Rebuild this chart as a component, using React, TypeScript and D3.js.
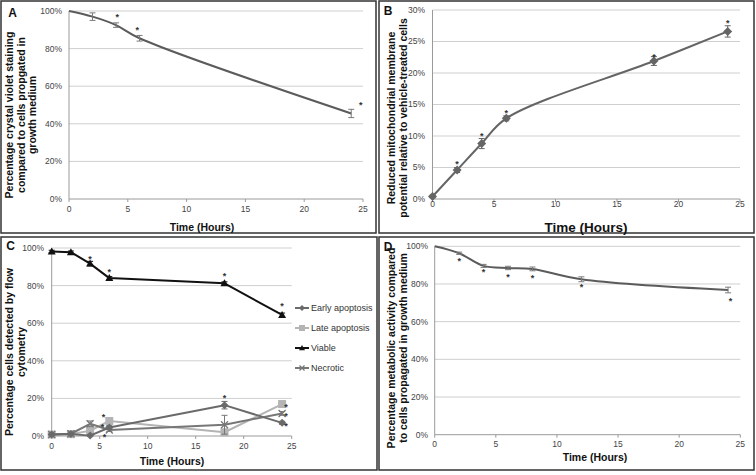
import React from 'react';
import * as d3 from 'd3';

const FONT = '"Liberation Sans", Arial, Helvetica, sans-serif';

// ---------- Data ----------
const xTicks = [0, 5, 10, 15, 20, 25];
const pctTicks100 = [0, 20, 40, 60, 80, 100];
const pctTicks30 = [0, 5, 10, 15, 20, 25, 30];

// Panel A: crystal violet
const hoursA = [0, 2, 4, 6, 24];
const crystalViolet = [100, 97, 92.5, 85.5, 45.5];
const crystalVioletErr = [0, 2, 1.2, 1.5, 2.2];
const starsAHours = [4.1, 5.8, 24.8];
const starsAValues = [97.9, 91.3, 51.2];

// Panel B: mitochondrial membrane potential
const hoursB = [0, 2, 4, 6, 18, 24];
const membranePotential = [0.4, 4.6, 8.8, 12.8, 21.9, 26.6];
const membranePotentialErr = [0.2, 0.4, 0.8, 0.4, 0.7, 0.9];
const starsBHours = [2, 4, 6, 18, 24];
const starsBValues = [5.9, 10.4, 14.1, 23.0, 28.3];

// Panel C: flow cytometry
const hoursC = [0, 2, 4, 6, 18, 24];
const earlyApoptosis = [0.8, 1.1, 0.2, 4.5, 16.4, 7.0];
const earlyApoptosisErr = [0.3, 0.3, 0.3, 1.0, 2.0, 0.8];
const lateApoptosis = [0.8, 1.0, 2.8, 8.0, 2.0, 17.0];
const lateApoptosisErr = [0.3, 0.3, 1.0, 1.0, 0.8, 1.0];
const viable = [98.2, 97.8, 91.7, 84.0, 81.2, 64.4];
const viableErr = [0.6, 0.6, 1.2, 0.8, 0.8, 1.0];
const necrotic = [0.8, 1.2, 6.5, 3.2, 6.0, 12.0];
const necroticErr = [0.3, 0.3, 1.5, 0.8, 5.0, 1.0];
const legendC = ['Early apoptosis', 'Late apoptosis', 'Viable', 'Necrotic'];
const starsCHours = [4, 6, 18, 24, 5.4, 5.3, 5.5, 18, 24.4, 24.4, 24.4];
const starsCValues = [95.4, 88.6, 86.6, 70.5, 11.5, 6.2, 0.9, 21.4, 16.8, 11.8, 6.6];

// Panel D: metabolic activity
const hoursD = [0, 2, 4, 6, 8, 12, 24];
const metabolic = [100, 96.3, 89.6, 88.5, 88.0, 82.5, 76.8];
const metabolicErr = [0, 0.6, 0.8, 0.9, 1.0, 1.3, 1.5];
const starsDHours = [2, 4, 6, 8, 12, 24.2];
const starsDValues = [93.3, 87.6, 85.1, 84.6, 79.5, 72.4];

// ---------- helpers ----------
type Scale = d3.ScaleLinear<number, number>;

interface FrameCfg {
  box: [number, number, number, number];
  label: string;
  labelPos: [number, number];
  xs: Scale;
  ys: Scale;
  yTicks: number[];
  tickLabelX: number;
  xLabelY: number;
  xTitlePos: [number, number];
  xTitleSize: number;
  yTitle: string[];
  yTitleXs: number[];
  yTitleY: number;
}

function Frame({ cfg }: { cfg: FrameCfg }) {
  const { box, xs, ys } = cfg;
  const [x0, x1] = xs.range();
  const [yb] = ys.range();
  return (
    <g>
      <rect x={box[0]} y={box[1]} width={box[2]} height={box[3]} fill="#fff" stroke="#333" strokeWidth={1.5} />
      {cfg.yTicks.map((t) => (
        <g key={'g' + t}>
          <line x1={x0} x2={x1} y1={ys(t)} y2={ys(t)} stroke={t === 0 ? '#9a9a9a' : '#cfcfcf'} strokeWidth={1} />
          <text x={cfg.tickLabelX} y={ys(t)} dy="0.35em" textAnchor="end" fontSize={8.5} fill="#444" fontFamily={FONT}>
            {t}%
          </text>
        </g>
      ))}
      <line x1={x0} x2={x0} y1={ys.range()[0]} y2={ys.range()[1]} stroke="#9a9a9a" strokeWidth={1} />
      {xTicks.map((t) => (
        <g key={'x' + t}>
          <line x1={xs(t)} x2={xs(t)} y1={yb} y2={yb + 3} stroke="#9a9a9a" />
          <text x={xs(t)} y={cfg.xLabelY} dy="0.35em" textAnchor="middle" fontSize={8.5} fill="#444" fontFamily={FONT}>
            {t}
          </text>
        </g>
      ))}
      <text x={cfg.xTitlePos[0]} y={cfg.xTitlePos[1]} dy="0.35em" textAnchor="middle" fontWeight="bold" fontSize={cfg.xTitleSize} fill="#111" fontFamily={FONT}>
        Time (Hours)
      </text>
      {cfg.yTitle.map((line, i) => (
        <text
          key={'yt' + i}
          transform={`translate(${cfg.yTitleXs[i]},${cfg.yTitleY}) rotate(-90)`}
          dy="0.35em"
          textAnchor="middle"
          fontWeight="bold"
          fontSize={10.5}
          fill="#111"
          fontFamily={FONT}
        >
          {line}
        </text>
      ))}
      <text x={cfg.labelPos[0]} y={cfg.labelPos[1]} dy="0.35em" textAnchor="middle" fontWeight="bold" fontSize={12} fill="#111" fontFamily={FONT}>
        {cfg.label}
      </text>
    </g>
  );
}

function ErrorBars({ xs, ys, hours, values, errs, color }: { xs: Scale; ys: Scale; hours: number[]; values: number[]; errs: number[]; color: string }) {
  return (
    <g stroke={color} strokeWidth={1} fill="none">
      {hours.map((h, i) =>
        errs[i] > 0 ? (
          <g key={i}>
            <line x1={xs(h)} x2={xs(h)} y1={ys(values[i] - errs[i])} y2={ys(values[i] + errs[i])} />
            <line x1={xs(h) - 3} x2={xs(h) + 3} y1={ys(values[i] - errs[i])} y2={ys(values[i] - errs[i])} />
            <line x1={xs(h) - 3} x2={xs(h) + 3} y1={ys(values[i] + errs[i])} y2={ys(values[i] + errs[i])} />
          </g>
        ) : null
      )}
    </g>
  );
}

function Stars({ xs, ys, hours, values }: { xs: Scale; ys: Scale; hours: number[]; values: number[] }) {
  return (
    <g>
      {hours.map((h, i) => (
        <text key={i} x={xs(h)} y={ys(values[i])} dy="0.6em" textAnchor="middle" fontSize={9} fontWeight="bold" fill="#333" fontFamily={FONT}>
          *
        </text>
      ))}
    </g>
  );
}

type Marker = 'diamond' | 'square' | 'triangle' | 'cross' | 'none';

function MarkerShape({ kind, x, y, color, r }: { kind: Marker; x: number; y: number; color: string; r: number }) {
  if (kind === 'diamond') return <path d={`M${x},${y - r}L${x + r},${y}L${x},${y + r}L${x - r},${y}Z`} fill={color} />;
  if (kind === 'square') return <rect x={x - r} y={y - r} width={2 * r} height={2 * r} fill={color} />;
  if (kind === 'triangle') return <path d={`M${x},${y - r}L${x + r},${y + r * 0.75}L${x - r},${y + r * 0.75}Z`} fill={color} />;
  if (kind === 'cross')
    return (
      <g stroke={color} strokeWidth={1.3}>
        <line x1={x - r} x2={x + r} y1={y - r} y2={y + r} />
        <line x1={x - r} x2={x + r} y1={y + r} y2={y - r} />
      </g>
    );
  return null;
}

function Series({ xs, ys, hours, values, color, width, curve, marker, r }: { xs: Scale; ys: Scale; hours: number[]; values: number[]; color: string; width: number; curve: d3.CurveFactory; marker: Marker; r: number }) {
  const line = d3
    .line<number>()
    .x((_, i) => xs(hours[i]))
    .y((v) => ys(v))
    .curve(curve);
  return (
    <g>
      <path d={line(values) || ''} fill="none" stroke={color} strokeWidth={width} strokeLinejoin="round" />
      {hours.map((h, i) => (
        <MarkerShape key={i} kind={marker} x={xs(h)} y={ys(values[i])} color={color} r={r} />
      ))}
    </g>
  );
}

export default function App() {
  // Panel A
  const xsA = d3.scaleLinear().domain([0, 25]).range([69, 363]);
  const ysA = d3.scaleLinear().domain([0, 100]).range([199, 11]);
  // Panel B
  const xsB = d3.scaleLinear().domain([0, 25]).range([432.5, 740]);
  const ysB = d3.scaleLinear().domain([0, 30]).range([199, 10]);
  // Panel C
  const xsC = d3.scaleLinear().domain([0, 25]).range([51.7, 291.7]);
  const ysC = d3.scaleLinear().domain([0, 100]).range([436, 248]);
  // Panel D
  const xsD = d3.scaleLinear().domain([0, 25]).range([434.7, 740.3]);
  const ysD = d3.scaleLinear().domain([0, 100]).range([434.7, 246.3]);

  const smooth = d3.curveCatmullRom.alpha(0.5);

  const cfgA: FrameCfg = {
    box: [1, 1, 375, 232],
    label: 'A',
    labelPos: [12.5, 12.5],
    xs: xsA,
    ys: ysA,
    yTicks: pctTicks100,
    tickLabelX: 62,
    xLabelY: 209,
    xTitlePos: [202, 227.5],
    xTitleSize: 10.5,
    yTitle: ['Percentage crystal violet staining', 'compared to cells propgated in', 'growth medium'],
    yTitleXs: [9.5, 21, 32.5],
    yTitleY: 115,
  };
  const cfgB: FrameCfg = {
    box: [379, 1, 375, 232],
    label: 'B',
    labelPos: [388, 11],
    xs: xsB,
    ys: ysB,
    yTicks: pctTicks30,
    tickLabelX: 425,
    xLabelY: 204,
    xTitlePos: [586, 227.5],
    xTitleSize: 13.5,
    yTitle: ['Reduced mitochondrial membrane', 'potential relative to vehicle-treated cells'],
    yTitleXs: [391, 403.5],
    yTitleY: 118,
  };
  const cfgC: FrameCfg = {
    box: [1, 237, 376, 233],
    label: 'C',
    labelPos: [10.5, 245.5],
    xs: xsC,
    ys: ysC,
    yTicks: pctTicks100,
    tickLabelX: 44,
    xLabelY: 446,
    xTitlePos: [172, 461],
    xTitleSize: 10.5,
    yTitle: ['Percentage cells detected by flow', 'cytometry'],
    yTitleXs: [9.5, 21],
    yTitleY: 352,
  };
  const cfgD: FrameCfg = {
    box: [379, 237, 375, 233],
    label: 'D',
    labelPos: [388, 246.5],
    xs: xsD,
    ys: ysD,
    yTicks: pctTicks100,
    tickLabelX: 428,
    xLabelY: 444.5,
    xTitlePos: [595, 457.5],
    xTitleSize: 10.5,
    yTitle: ['Percentage metabolic activity compared', 'to cells propagated in growth medium'],
    yTitleXs: [391, 403.5],
    yTitleY: 348,
  };

  const cSeries = [
    { name: legendC[0], values: earlyApoptosis, errs: earlyApoptosisErr, color: '#6a6a6a', marker: 'diamond' as Marker, r: 4 },
    { name: legendC[1], values: lateApoptosis, errs: lateApoptosisErr, color: '#b4b4b4', marker: 'square' as Marker, r: 4 },
    { name: legendC[2], values: viable, errs: viableErr, color: '#111111', marker: 'triangle' as Marker, r: 4 },
    { name: legendC[3], values: necrotic, errs: necroticErr, color: '#777777', marker: 'cross' as Marker, r: 3.5 },
  ];
  const drawOrder = [1, 3, 0, 2];
  const legendY = d3.scalePoint<string>().domain(legendC).range([308, 368]);

  return (
    <svg width={756} height={475} style={{ position: 'absolute', left: 0, top: 0, display: 'block', background: '#fff' }}>
      <rect x={0} y={0} width={756} height={475} fill="#fff" />
      {/* Panel A */}
      <Frame cfg={cfgA} />
      <Series xs={xsA} ys={ysA} hours={hoursA} values={crystalViolet} color="#5b5b5b" width={2} curve={smooth} marker="none" r={0} />
      <ErrorBars xs={xsA} ys={ysA} hours={hoursA} values={crystalViolet} errs={crystalVioletErr} color="#7a7a7a" />
      <Stars xs={xsA} ys={ysA} hours={starsAHours} values={starsAValues} />

      {/* Panel B */}
      <Frame cfg={cfgB} />
      <Series xs={xsB} ys={ysB} hours={hoursB} values={membranePotential} color="#656565" width={2} curve={smooth} marker="diamond" r={4.5} />
      <ErrorBars xs={xsB} ys={ysB} hours={hoursB} values={membranePotential} errs={membranePotentialErr} color="#666" />
      <Stars xs={xsB} ys={ysB} hours={starsBHours} values={starsBValues} />

      {/* Panel C */}
      <Frame cfg={cfgC} />
      {drawOrder.map((k) => {
        const s = cSeries[k];
        return (
          <g key={s.name}>
            <ErrorBars xs={xsC} ys={ysC} hours={hoursC} values={s.values} errs={s.errs} color={s.color} />
            <Series xs={xsC} ys={ysC} hours={hoursC} values={s.values} color={s.color} width={2} curve={d3.curveLinear} marker={s.marker} r={s.r} />
          </g>
        );
      })}
      <Stars xs={xsC} ys={ysC} hours={starsCHours} values={starsCValues} />
      {cSeries.map((s) => {
        const ly = legendY(s.name) as number;
        return (
          <g key={'lg' + s.name}>
            <line x1={295} x2={309} y1={ly} y2={ly} stroke={s.color} strokeWidth={2} />
            <MarkerShape kind={s.marker} x={302} y={ly} color={s.color} r={s.marker === 'cross' ? 2.5 : 3} />
            <text x={311} y={ly} dy="0.35em" fontSize={9} fill="#333" fontFamily={FONT}>
              {s.name}
            </text>
          </g>
        );
      })}

      {/* Panel D */}
      <Frame cfg={cfgD} />
      <Series xs={xsD} ys={ysD} hours={hoursD} values={metabolic} color="#5b5b5b" width={2} curve={smooth} marker="none" r={0} />
      <ErrorBars xs={xsD} ys={ysD} hours={hoursD} values={metabolic} errs={metabolicErr} color="#7a7a7a" />
      <Stars xs={xsD} ys={ysD} hours={starsDHours} values={starsDValues} />
    </svg>
  );
}
